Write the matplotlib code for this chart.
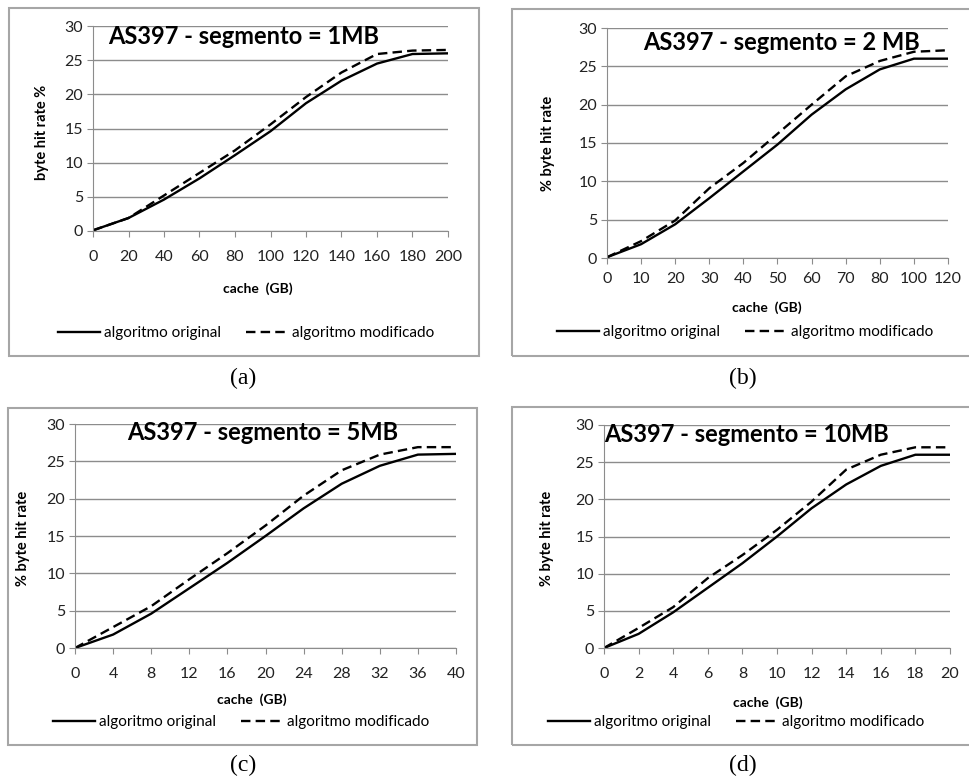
import matplotlib.pyplot as plt
from matplotlib.patches import Rectangle

W, H = 970, 778

# data
cache_a = ["0", "20", "40", "60", "80", "100", "120", "140", "160", "180", "200"]
orig_a = [0.1, 1.9, 4.6, 7.7, 11.1, 14.6, 18.7, 22.0, 24.5, 25.9, 26.0]
mod_a = [0.1, 1.9, 5.2, 8.5, 11.8, 15.6, 19.6, 23.2, 25.9, 26.4, 26.5]

cache_b = ["0", "10", "20", "30", "40", "50", "60", "70", "80", "100", "120"]
orig_b = [0.1, 1.8, 4.4, 7.8, 11.3, 14.8, 18.7, 22.0, 24.6, 26.0, 26.0]
mod_b = [0.1, 2.2, 4.9, 9.1, 12.4, 16.2, 20.0, 23.7, 25.7, 26.9, 27.1]

cache_c = ["0", "4", "8", "12", "16", "20", "24", "28", "32", "36", "40"]
orig_c = [0.0, 1.8, 4.6, 8.0, 11.4, 15.0, 18.7, 22.0, 24.4, 25.9, 26.0]
mod_c = [0.0, 2.8, 5.6, 9.2, 12.7, 16.4, 20.4, 23.8, 25.9, 26.9, 26.9]

cache_d = ["0", "2", "4", "6", "8", "10", "12", "14", "16", "18", "20"]
orig_d = [0.0, 1.9, 4.8, 8.1, 11.4, 15.0, 18.8, 22.0, 24.5, 26.0, 26.0]
mod_d = [0.0, 2.7, 5.5, 9.4, 12.5, 15.9, 19.7, 24.0, 26.0, 27.0, 27.0]

titles = ["AS397 - segmento = 1MB", "AS397 - segmento = 2 MB",
          "AS397 - segmento = 5MB", "AS397 - segmento = 10MB"]
ylabels = ["byte hit rate %", "% byte hit rate", "% byte hit rate", "% byte hit rate"]
captions = ["(a)", "(b)", "(c)", "(d)"]

plt.rcParams['font.family'] = ['Lato', 'DejaVu Sans']

fig = plt.figure(figsize=(W / 100, H / 100), dpi=100)


def fx(x):
    return x / W


def fy(y):
    return 1 - y / H


# pixel layout: box, plot area, title, ylabel, xlabel, legend, caption
panels = [
    dict(box=(9, 8, 479, 356), plot=(93, 26, 448, 231), title=(244, 37), yl=(42, 132),
         xl=(258, 289), leg=(246, 333), cap=(243, 378),
         cats=cache_a, orig=orig_a, mod=mod_a),
    dict(box=(512, 9, 990, 356), plot=(607, 28, 948, 258), title=(782, 42), yl=(548, 143),
         xl=(767, 308), leg=(745, 332), cap=(743, 378),
         cats=cache_b, orig=orig_b, mod=mod_b),
    dict(box=(8, 408, 477, 745), plot=(75, 424, 456, 648), title=(263, 433), yl=(23, 538),
         xl=(252, 700), leg=(241, 722), cap=(243, 765),
         cats=cache_c, orig=orig_c, mod=mod_c),
    dict(box=(512, 407, 990, 745), plot=(604, 425, 950, 648), title=(746, 435), yl=(547, 538),
         xl=(768, 703), leg=(736, 722), cap=(743, 765),
         cats=cache_d, orig=orig_d, mod=mod_d),
]

grey = '#8c8c8c'

for i, p in enumerate(panels):
    x0, y0, x1, y1 = p['box']
    fig.patches.append(Rectangle((fx(x0), fy(y1)), fx(x1 - x0), (y1 - y0) / H,
                                 transform=fig.transFigure, fill=False,
                                 edgecolor='#a6a6a6', lw=1.5))

    l, t, r, b = p['plot']
    ax = fig.add_axes([fx(l), fy(b), fx(r - l), (b - t) / H])
    xs = range(len(p['cats']))
    lo, = ax.plot(xs, p['orig'], color='black', lw=1.7, label='algoritmo original')
    lm, = ax.plot(xs, p['mod'], color='black', lw=1.7, dashes=(4, 2.2),
                  label='algoritmo modificado')
    ax.set_xlim(0, len(p['cats']) - 1)
    ax.set_ylim(0, 30)
    ax.set_yticks(range(0, 31, 5))
    ax.set_xticks(list(xs))
    ax.set_xticklabels(p['cats'])
    ax.yaxis.grid(True, color=grey, lw=1)
    ax.set_axisbelow(True)
    for s in ['top', 'right']:
        ax.spines[s].set_visible(False)
    for s in ['left', 'bottom']:
        ax.spines[s].set_color(grey)
    ax.tick_params(direction='out', length=4, color=grey, labelsize=11.5,
                   labelcolor='#222222', pad=3)
    ax.tick_params(axis='x', pad=10 if i in (0, 2, 3) else 6)

    fig.text(fx(p['title'][0]), fy(p['title'][1]), titles[i], ha='center', va='center',
             fontsize=17, fontweight='bold')
    fig.text(fx(p['yl'][0]), fy(p['yl'][1]), ylabels[i], ha='center', va='center',
             rotation=90, fontsize=10.5, fontweight='bold')
    fig.text(fx(p['xl'][0]), fy(p['xl'][1]), 'cache  (GB)', ha='center', va='center',
             fontsize=10, fontweight='bold')
    fig.legend(handles=[lo, lm], loc='center', bbox_to_anchor=(fx(p['leg'][0]), fy(p['leg'][1])),
               ncol=2, frameon=False, fontsize=11, handlelength=2.75, handletextpad=0.3,
               columnspacing=1.6, borderaxespad=0, borderpad=0)
    fig.text(fx(p['cap'][0]), fy(p['cap'][1]), captions[i], ha='center', va='center',
             fontsize=17, family=['Liberation Serif', 'DejaVu Serif'])

fig.savefig('out.png', dpi=100)
